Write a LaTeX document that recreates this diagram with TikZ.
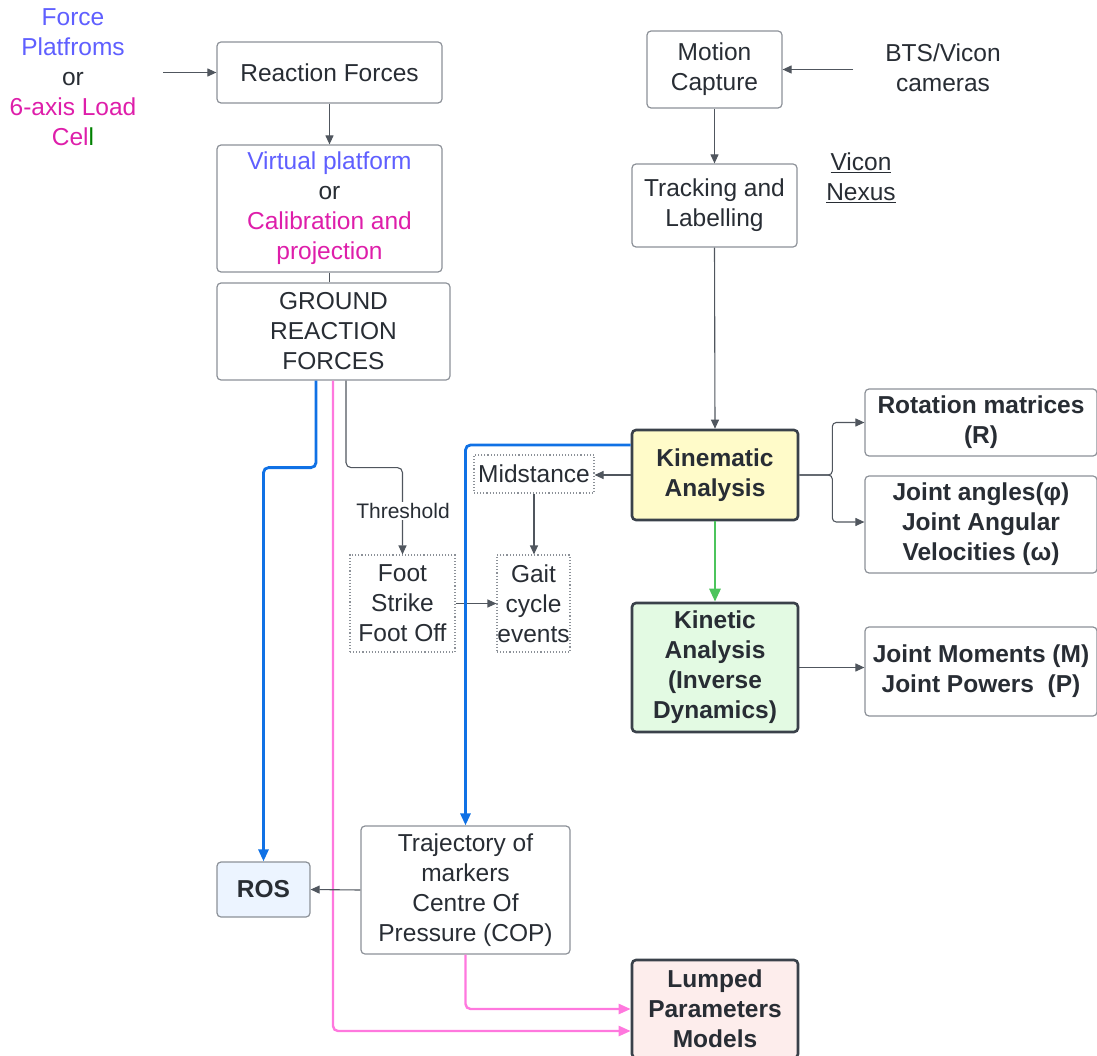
\documentclass[tikz,border=0pt]{standalone}
\usepackage{fontspec}
\setmainfont{Liberation Sans}
\usetikzlibrary{arrows.meta}
\definecolor{txt}{RGB}{40,45,52}
\definecolor{bordc}{RGB}{140,145,152}
\definecolor{darkc}{RGB}{58,65,74}
\definecolor{linec}{RGB}{80,86,94}
\definecolor{blueT}{RGB}{95,95,255}
\definecolor{magT}{RGB}{222,30,170}
\definecolor{greenT}{RGB}{0,128,0}
\definecolor{yelF}{RGB}{255,251,201}
\definecolor{grnF}{RGB}{227,250,227}
\definecolor{rosF}{RGB}{236,244,255}
\definecolor{pnkF}{RGB}{253,237,236}
\definecolor{blueL}{RGB}{16,113,229}
\definecolor{pinkL}{RGB}{255,120,222}
\definecolor{greenL}{RGB}{76,196,92}
\begin{document}
\begin{tikzpicture}[x=1pt,y=-1pt,
  font=\fontsize{24.5}{30}\selectfont, text=txt,
  box/.style={draw=bordc, line width=1.2pt, rounded corners=4pt, align=center, inner sep=0pt},
  thbox/.style={draw=darkc, line width=2.6pt, rounded corners=4pt, align=center, inner sep=0pt, font=\fontsize{24.5}{30}\selectfont\bfseries},
  dotbox/.style={draw=bordc, dotted, line width=1.1pt, align=center, inner sep=0pt},
  plain/.style={align=center, inner sep=0pt},
  conn/.style={draw=linec, line width=1.1pt, -{Triangle[length=9pt,width=8pt]}},
  blueconn/.style={draw=blueL, line width=2.8pt, rounded corners=5pt, -{Triangle[length=12pt,width=10pt]}},
  pinkconn/.style={draw=pinkL, line width=2.4pt, rounded corners=5pt, -{Triangle[length=12pt,width=10pt]}},
  greenconn/.style={draw=greenL, line width=2.8pt, -{Triangle[length=13pt,width=11pt]}}
]
\useasboundingbox (0,0) rectangle (1097,1056);

% left column
\node[plain] (src) at (73,77) {{\color{blueT}Force}\\{\color{blueT}Platfroms}\\or\\{\color{magT}6-axis Load}\\{\color{magT}Cel}{\color{greenT}l}};
\node[box, minimum width=225pt, minimum height=61pt] (rf) at (329.5,72.5) {Reaction Forces};
\node[box, minimum width=225pt, minimum height=127pt] (vp) at (329.5,208.5) {{\color{blueT}Virtual platform}\\or\\{\color{magT}Calibration and}\\{\color{magT}projection}};
\node[box, minimum width=233pt, minimum height=97pt] (grf) at (333.5,331.5) {GROUND\\REACTION\\FORCES};

% right column
\node[box, minimum width=135pt, minimum height=77pt] (mc) at (714.5,69.5) {Motion\\Capture};
\node[plain] (bts) at (943,68) {BTS/Vicon\\cameras};
\node[box, minimum width=165pt, minimum height=83pt] (tl) at (714.5,205.5) {Tracking and\\Labelling};
\node[plain] (vn) at (861,178) {\underline{Vicon}\\\underline{Nexus}};
\node[thbox, fill=yelF, minimum width=166pt, minimum height=90pt] (ka) at (715,475) {Kinematic\\Analysis};
\node[box, minimum width=232pt, minimum height=67pt, font=\fontsize{24.5}{30}\selectfont\bfseries] (rm) at (981,422.5) {Rotation matrices\\(R)};
\node[box, minimum width=232pt, minimum height=97pt, font=\fontsize{24.5}{30}\selectfont\bfseries] (ja) at (981,524.5) {Joint angles(φ)\\Joint Angular\\Velocities (ω)};
\node[thbox, fill=grnF, minimum width=166pt, minimum height=129pt] (kin) at (715,667.5) {Kinetic\\Analysis\\(Inverse\\Dynamics)};
\node[box, minimum width=232pt, minimum height=89pt, font=\fontsize{24.5}{30}\selectfont\bfseries] (jm) at (981,671.5) {Joint Moments (M)\\Joint Powers~~(P)};

% middle
\node[dotbox, minimum width=120pt, minimum height=38pt] (mid) at (534,474) {Midstance};
\node[dotbox, minimum width=73pt, minimum height=97pt] (gce) at (533.5,603.5) {Gait\\cycle\\events};
\node[dotbox, minimum width=105pt, minimum height=97pt] (fs) at (402.5,603.5) {Foot\\Strike\\Foot Off};
\node[box, minimum width=209pt, minimum height=128pt] (traj) at (465.5,890) {Trajectory of\\markers\\Centre Of\\Pressure (COP)};
\node[box, fill=rosF, minimum width=93pt, minimum height=55pt, font=\fontsize{24.5}{30}\selectfont\bfseries] (ros) at (263.5,889.5) {ROS};
\node[thbox, fill=pnkF, minimum width=166pt, minimum height=98pt] (lpm) at (715,1009) {Lumped\\Parameters\\Models};

% connectors
\coordinate (srcout) at (163,72.5);
\coordinate (btsout) at (853,69.5);
\draw[conn] (srcout) -- (rf.west);
\draw[conn] (rf.south) -- (vp.north);
\draw[draw=linec, line width=1.1pt] (vp.south) -- (vp.south |- grf.north);
\draw[conn] (btsout) -- (mc.east);
\draw[conn] (mc.south) -- (tl.north);
\draw[conn] (tl.south) -- (ka.north);
\draw[greenconn] (ka.south) -- (kin.north);
\draw[conn] (kin.east) -- (kin.east -| jm.west);
\draw[conn, rounded corners=4pt] (ka.east) -- ++(33,0) |- (rm.west);
\draw[conn, rounded corners=4pt] (ka.east) -- ++(33,0) |- ([yshift=2.5pt]ja.west);
\draw[conn] (ka.west) -- (ka.west -| mid.east);
\draw[conn] (mid.south) -- (mid.south |- gce.north);
\draw[conn] (fs.east) -- (gce.west);
\draw[conn, rounded corners=5pt] ([xshift=12.5pt]grf.south) -- ++(0,87) -| (fs.north);
\node[fill=white, inner sep=1pt, font=\fontsize{21}{25}\selectfont] (thr) at (403,511) {Threshold};
\draw[blueconn] ([yshift=30pt]ka.west) -| (traj.north);
\draw[blueconn] ([xshift=-17.5pt]grf.south) -- ++(0,87) -| (ros.north);
\draw[pinkconn] ([xshift=-0.5pt]grf.south) |- ([yshift=-22pt]lpm.west);
\draw[pinkconn] (traj.south) |- (lpm.west);
\draw[conn] (traj.west) -- (ros.east);
\end{tikzpicture}
\end{document}
